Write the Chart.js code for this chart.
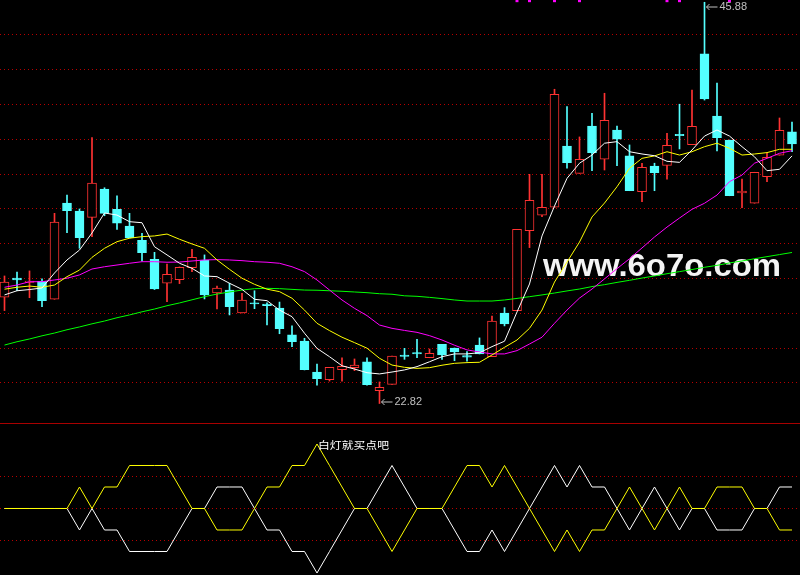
<!DOCTYPE html>
<html>
<head>
<meta charset="utf-8">
<script src="https://cdn.jsdelivr.net/npm/chart.js@4.4.1/dist/chart.umd.min.js"></script>
<style>
  html, body { margin: 0; padding: 0; background: #000; }
  #wrap { position: relative; width: 800px; height: 575px; overflow: hidden; background: #000; }
  #main { position: absolute; left: 0; top: 0; }
  #sep { position: absolute; left: 0; top: 423px; width: 800px; height: 1px; background: #a80000; }
  #sub { position: absolute; left: 0; top: 424px; }
</style>
</head>
<body>
<div id="wrap">
  <canvas id="main" width="800" height="423"></canvas>
  <div id="sep"></div>
  <canvas id="sub" width="800" height="151"></canvas>
</div>
<script>
// daily candles
const candleOpen = [28.93, 30.03, 29.78, 29.84, 28.81, 34.34, 33.88, 33.52, 35.15, 33.98,
  33.02, 32.20, 31.11, 29.73, 29.94, 30.63, 31.07, 29.17, 29.34, 28.02,
  28.61, 28.54, 28.31, 26.76, 26.41, 24.63, 24.19, 24.76, 24.88, 25.21,
  23.56, 23.92, 25.61, 25.75, 25.45, 26.22, 26.01, 25.58, 26.18, 25.51,
  28.01, 28.16, 32.75, 33.64, 34.10, 37.62, 36.05, 38.77, 36.86, 38.54,
  37.05, 34.99, 36.47, 36.51, 38.29, 37.69, 42.91, 39.34, 37.96, 34.92,
  34.33, 35.86, 37.09, 38.43];
const candleHigh = [30.15, 30.38, 30.44, 29.98, 33.75, 34.80, 34.00, 38.10, 35.22, 34.75,
  33.75, 32.60, 31.51, 30.84, 30.67, 31.68, 31.36, 29.57, 29.73, 29.15,
  29.30, 28.60, 28.65, 27.28, 26.57, 25.09, 24.90, 25.44, 25.38, 25.44,
  24.06, 25.55, 25.99, 26.51, 25.95, 26.22, 26.01, 25.80, 26.59, 27.85,
  28.33, 32.83, 35.99, 35.99, 40.88, 39.88, 38.14, 39.50, 40.65, 38.77,
  37.68, 36.63, 36.63, 38.35, 40.02, 40.84, 45.88, 41.24, 37.96, 35.72,
  36.11, 37.20, 39.23, 39.00];
const candleLow = [28.16, 29.30, 28.90, 28.38, 28.81, 32.64, 31.74, 32.41, 33.61, 32.83,
  32.33, 31.01, 29.37, 28.67, 29.71, 30.40, 28.83, 28.25, 27.91, 28.02,
  28.27, 27.33, 26.83, 26.09, 24.75, 23.88, 24.11, 24.11, 24.71, 23.88,
  22.82, 23.92, 25.36, 25.45, 25.45, 25.36, 25.28, 25.26, 25.67, 25.51,
  27.28, 28.16, 31.78, 33.56, 34.10, 36.34, 36.05, 36.20, 36.24, 36.49,
  35.05, 34.42, 35.05, 35.72, 37.45, 37.69, 40.26, 37.33, 34.76, 34.07,
  34.33, 35.57, 37.09, 37.29];
const candleClose = [29.80, 29.92, 29.86, 28.73, 33.24, 33.90, 32.35, 35.49, 33.75, 33.18,
  32.35, 31.49, 29.40, 30.25, 30.65, 31.22, 29.06, 29.46, 28.38, 28.77,
  28.54, 28.45, 27.12, 26.37, 24.76, 24.25, 24.90, 24.96, 25.03, 23.90,
  23.75, 25.55, 25.52, 25.67, 25.71, 25.61, 25.78, 25.49, 25.67, 27.56,
  27.39, 32.83, 34.50, 34.10, 40.59, 36.66, 36.86, 37.24, 39.10, 38.01,
  35.05, 36.40, 36.09, 37.66, 38.21, 38.75, 40.32, 38.10, 34.76, 35.03,
  36.11, 36.97, 38.52, 37.74];

// moving averages as drawn
const ma5 = [29.06, 29.30, 29.37, 29.46, 30.32, 31.07, 31.64, 32.62, 33.77, 33.65,
  33.27, 33.21, 31.83, 31.36, 30.88, 30.59, 30.15, 30.11, 29.73, 29.38,
  28.81, 28.73, 28.19, 27.81, 26.86, 25.99, 25.51, 24.99, 24.80, 24.59,
  24.52, 24.63, 24.75, 24.94, 25.22, 25.51, 25.67, 25.67, 25.74, 26.09,
  26.40, 28.08, 29.69, 32.45, 34.17, 35.76, 36.63, 37.10, 37.78, 37.87,
  37.29, 37.16, 37.06, 36.74, 36.68, 37.39, 38.19, 38.54, 38.19, 37.58,
  37.00, 36.20, 36.28, 37.05];
const ma10 = [29.39, 29.50, 29.57, 29.50, 29.63, 30.11, 30.49, 31.22, 31.74, 32.12,
  32.32, 32.41, 32.45, 32.56, 32.26, 31.99, 31.74, 31.07, 30.53, 30.02,
  29.67, 29.39, 29.25, 28.87, 28.19, 27.43, 27.01, 26.63, 26.32, 26.00,
  25.42, 25.03, 24.90, 24.84, 24.88, 25.02, 25.13, 25.17, 25.19, 25.61,
  26.05, 26.47, 27.14, 28.19, 29.80, 30.95, 32.10, 33.54, 34.34, 35.28,
  36.34, 36.91, 37.05, 37.29, 37.10, 37.29, 37.58, 37.78, 37.49, 37.10,
  37.16, 37.24, 37.43, 37.43];
const ma20 = [29.50, 29.63, 29.82, 29.82, 29.92, 30.02, 30.21, 30.55, 30.68, 30.78,
  30.88, 30.97, 30.97, 30.94, 30.95, 31.01, 31.07, 31.09, 31.07, 31.03,
  30.97, 30.94, 30.88, 30.68, 30.40, 29.92, 29.34, 28.77, 28.29, 27.87,
  27.33, 27.14, 27.02, 26.91, 26.72, 26.47, 26.17, 25.90, 25.78, 25.67,
  25.67, 25.86, 26.24, 26.63, 27.43, 28.19, 28.88, 29.40, 29.98, 30.57,
  31.14, 31.76, 32.39, 32.96, 33.48, 33.98, 34.33, 34.80, 35.57, 35.95,
  36.63, 36.91, 37.20, 37.35];
const ma60 = [26.18, 26.37, 26.53, 26.71, 26.87, 27.06, 27.22, 27.40, 27.56, 27.75,
  27.91, 28.09, 28.25, 28.44, 28.60, 28.78, 28.96, 29.11, 29.23, 29.34,
  29.42, 29.44, 29.42, 29.38, 29.34, 29.33, 29.30, 29.27, 29.23, 29.19,
  29.13, 29.10, 29.01, 28.98, 28.92, 28.85, 28.77, 28.71, 28.71, 28.71,
  28.77, 28.86, 28.96, 29.06, 29.17, 29.29, 29.40, 29.54, 29.65, 29.78,
  29.90, 30.03, 30.15, 30.28, 30.40, 30.52, 30.65, 30.76, 30.90, 31.01,
  31.14, 31.26, 31.38, 31.50];

const gridPrices = [24, 26, 28, 30, 32, 34, 36, 38, 40, 42, 44];
const topMarks = [41, 42, 44, 46, 53, 54, 58];

// lower panel signal lines
const signalYellow = [0, 0, 0, 0, 0, 0, 1, 0, 1, 1, 2, 2, 2, 2, 1, 0, 0, -1, -1, -1,
  0, 1, 1, 2, 2, 3, 2, 1, 0, 0, -1, -2, -1, 0, 0, 0, 1, 2, 2, 1,
  2, 1, 0, -1, -2, -1, -2, -1, -1, 0, 1, 0, -1, 0, 1, 0, 0, 1, 1, 1,
  0, 0, -1, -1];
const signalWhite = [0, 0, 0, 0, 0, 0, -1, 0, -1, -1, -2, -2, -2, -2, -1, 0, 0, 1, 1, 1,
  0, -1, -1, -2, -2, -3, -2, -1, 0, 0, 1, 2, 1, 0, 0, 0, -1, -2, -2, -1,
  -2, -1, 0, 1, 2, 1, 2, 1, 1, 0, -1, 0, 1, 0, -1, 0, 0, -1, -1, -1,
  0, 0, 1, 1];
const signalGrid = [-1.5, 0, 1.5];
const signalNote = '白灯就买点吧';

const RED = '#ff3232';
const CYAN = '#54ffff';
const GRID = '#b80000';

const days = candleOpen.map((_, i) => i);
const isUp = i => candleClose[i] >= candleOpen[i];
const candleColor = i => isUp(i) ? RED : CYAN;
const xRange = { min: -0.36, max: 63.64 };

function maLine(values, color, order) {
  return {
    type: 'line',
    data: values.map((v, i) => ({ x: i, y: v })),
    borderColor: color,
    borderWidth: 1,
    pointRadius: 0,
    tension: 0,
    order
  };
}

function priceTag(ctx, px, ty, text) {
  ctx.strokeStyle = '#c0c0c0';
  ctx.lineWidth = 1;
  ctx.beginPath();
  ctx.moveTo(px + 2, ty); ctx.lineTo(px + 13, ty);
  ctx.moveTo(px + 2, ty); ctx.lineTo(px + 5, ty - 3);
  ctx.moveTo(px + 2, ty); ctx.lineTo(px + 5, ty + 3);
  ctx.stroke();
  ctx.fillStyle = '#c0c0c0';
  ctx.font = '11px "Liberation Sans"';
  ctx.textBaseline = 'middle';
  ctx.fillText(text, px + 15, ty);
}

const mainOverlay = {
  id: 'mainOverlay',
  beforeDatasetsDraw(chart) {
    const { ctx } = chart;
    ctx.save();
    ctx.font = 'bold 31px "Liberation Sans"';
    const w = ctx.measureText('www.6o7o.com').width;
    ctx.translate(543, 276);
    ctx.scale(238 / w, 1);
    ctx.fillStyle = '#f4f4f4';
    ctx.textBaseline = 'alphabetic';
    ctx.fillText('www.6o7o.com', 0, 0);
    ctx.restore();
  },
  afterDatasetsDraw(chart) {
    const { ctx, scales: { x, y } } = chart;
    const hi = candleHigh.indexOf(Math.max(...candleHigh));
    const lo = candleLow.indexOf(Math.min(...candleLow));
    ctx.save();
    priceTag(ctx, x.getPixelForValue(hi), Math.max(y.getPixelForValue(candleHigh[hi]), 7), candleHigh[hi].toFixed(2));
    priceTag(ctx, x.getPixelForValue(lo), y.getPixelForValue(candleLow[lo]) - 1.5, candleLow[lo].toFixed(2));
    ctx.restore();
  }
};

new Chart(document.getElementById('main'), {
  type: 'bar',
  data: {
    datasets: [
      {
        type: 'line',
        data: topMarks.map(i => ({ x: i, y: 45.97 })),
        showLine: false,
        pointStyle: 'rect',
        pointRadius: 2.1,
        pointBorderWidth: 0,
        pointBackgroundColor: '#ff00ff',
        order: 0
      },
      maLine(ma5, '#ffffff', 1),
      maLine(ma10, '#ffff00', 2),
      maLine(ma20, '#ff00ff', 3),
      maLine(ma60, '#00ff00', 4),
      {
        // candle bodies
        data: days.map(i => ({ x: i, y: [candleOpen[i], candleClose[i]] })),
        backgroundColor: c => isUp(c.dataIndex ?? 0) ? '#000000' : CYAN,
        borderColor: c => candleColor(c.dataIndex ?? 0),
        borderWidth: 1,
        borderSkipped: false,
        barThickness: 9,
        grouped: false,
        order: 5
      },
      {
        // wicks
        data: days.map(i => ({ x: i, y: [candleLow[i], candleHigh[i]] })),
        backgroundColor: c => candleColor(c.dataIndex ?? 0),
        borderWidth: 0,
        barThickness: 1,
        grouped: false,
        order: 6
      }
    ]
  },
  options: {
    responsive: false,
    animation: false,
    devicePixelRatio: 1,
    layout: { padding: 0, autoPadding: false },
    plugins: { legend: { display: false }, tooltip: { enabled: false } },
    scales: {
      x: { type: 'linear', min: xRange.min, max: xRange.max, offset: false, display: false },
      y: {
        min: 21.70, max: 46.01,
        ticks: { display: false },
        grid: { color: GRID, drawTicks: false },
        border: { display: false, dash: [1, 3] },
        afterBuildTicks: s => { s.ticks = gridPrices.map(v => ({ value: v })); }
      }
    }
  },
  plugins: [mainOverlay]
});

const subOverlay = {
  id: 'subOverlay',
  afterDatasetsDraw(chart) {
    const { ctx, scales: { x, y } } = chart;
    const peak = signalYellow.indexOf(Math.max(...signalYellow));
    ctx.save();
    ctx.font = '10px "Noto Sans CJK SC"';
    const w = ctx.measureText(signalNote).width;
    ctx.translate(x.getPixelForValue(peak) + 1, y.getPixelForValue(signalYellow[peak]) + 5);
    ctx.scale(71 / w, 1);
    ctx.fillStyle = '#ffffff';
    ctx.fillText(signalNote, 0, 0);
    ctx.restore();
  }
};

new Chart(document.getElementById('sub'), {
  type: 'line',
  data: {
    datasets: [
      maLine(signalWhite, '#ffffff', 2),
      maLine(signalYellow, '#ffff00', 1)
    ]
  },
  options: {
    responsive: false,
    animation: false,
    devicePixelRatio: 1,
    layout: { padding: 0, autoPadding: false },
    plugins: { legend: { display: false }, tooltip: { enabled: false } },
    scales: {
      x: { type: 'linear', min: xRange.min, max: xRange.max, display: false },
      y: {
        min: -3.093, max: 3.930,
        ticks: { display: false },
        grid: { color: GRID, drawTicks: false },
        border: { display: false, dash: [1, 3] },
        afterBuildTicks: s => { s.ticks = signalGrid.map(v => ({ value: v })); }
      }
    }
  },
  plugins: [subOverlay]
});
</script>
</body>
</html>
